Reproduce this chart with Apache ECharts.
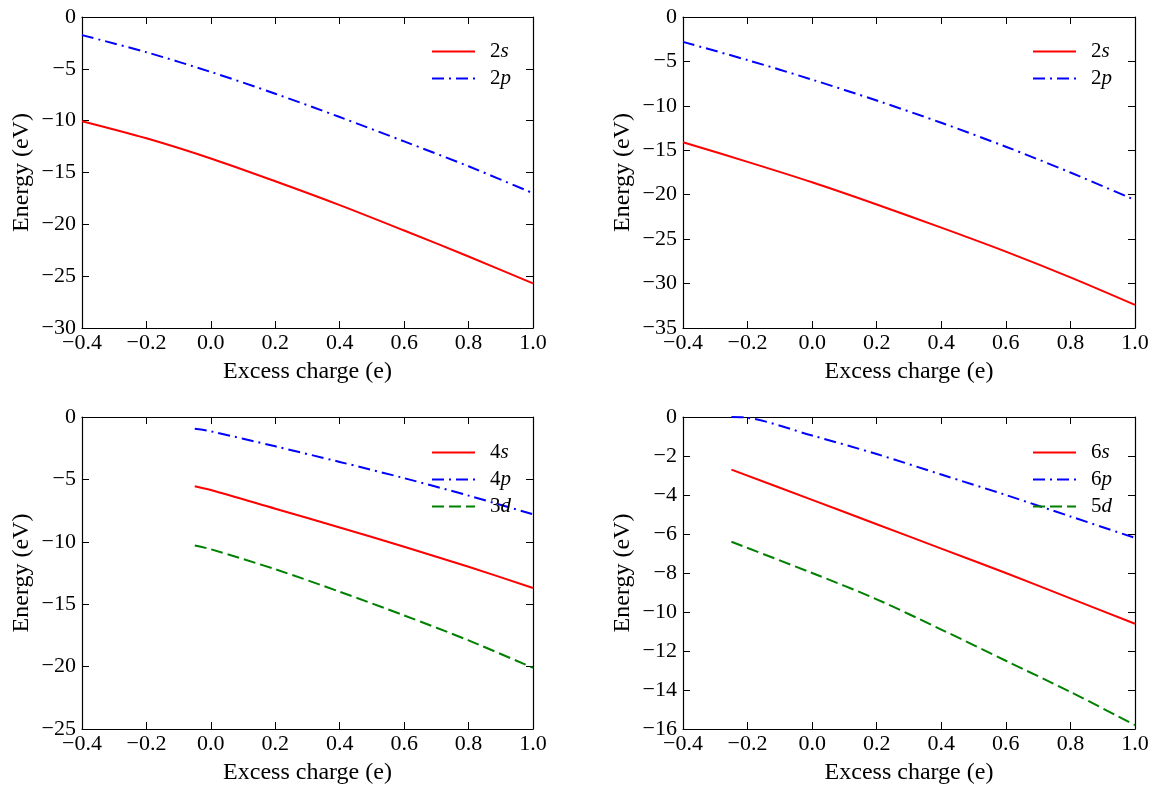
<!DOCTYPE html>
<html><head><meta charset="utf-8">
<script src="https://cdn.jsdelivr.net/npm/echarts@6/dist/echarts.min.js"></script>
<style>html,body{margin:0;padding:0;background:#fff}#c{width:1157px;height:789px}</style>
</head><body><div id="c"></div>
<script>
// ---- data ----
const xTL = [-0.4, -0.2, 0.0, 0.2, 0.4, 0.6, 0.8, 1.0];
const tl2s = [-10.05, -11.7, -13.65, -15.85, -18.15, -20.6, -23.1, -25.7];
const tl2p = [-1.75, -3.4, -5.3, -7.4, -9.65, -12.0, -14.4, -17.0];

const xTR = [-0.4, -0.2, 0.0, 0.2, 0.4, 0.6, 0.8, 1.0];
const tr2s = [-14.1, -16.3, -18.6, -21.1, -23.7, -26.4, -29.3, -32.4];
const tr2p = [-2.8, -4.85, -7.05, -9.4, -11.9, -14.6, -17.5, -20.6];

const xBL = [-0.05, 0.0, 0.2, 0.4, 0.6, 0.8, 1.0];
const bl4s = [-5.55, -5.85, -7.35, -8.85, -10.4, -12.0, -13.7];
const bl4p = [-0.95, -1.15, -2.35, -3.6, -4.9, -6.3, -7.8];
const bl3d = [-10.3, -10.6, -12.2, -14.0, -15.9, -17.9, -20.1];

const xBR = [-0.25, 0.0, 0.2, 0.4, 0.6, 0.8, 1.0];
const br6s = [-2.7, -4.25, -5.5, -6.75, -8.0, -9.3, -10.6];
const br5d = [-6.4, -8.0, -9.35, -10.9, -12.5, -14.1, -15.8];
const xBRp = [-0.25, -0.21, 0.0, 0.2, 0.4, 0.6, 0.8, 1.0];
const br6p = [0.0, -0.02, -0.95, -1.9, -2.95, -4.0, -5.1, -6.2];

const yRanges = [[-30, 0, 5], [-35, 0, 5], [-25, 0, 5], [-16, 0, 2]];
const xLabel = 'Excess charge (e)';
const yLabel = 'Energy (eV)';

// ---- build ----
const FONT = 'Liberation Serif';
const grids = [
  {left: 82, top: 17, width: 451, height: 311},
  {left: 683, top: 17, width: 452, height: 311},
  {left: 82, top: 417, width: 451, height: 312},
  {left: 683, top: 417, width: 452, height: 312}
];
const fmtNum = (v, d) => { const s = Math.abs(v).toFixed(d); return (v < 0 ? '\u2212' : '') + s; };
const xAxes = [], yAxes = [];
grids.forEach((g, i) => {
  const common = {gridIndex: i, type: 'value', min: -0.4, max: 1.0, interval: 0.2,
    axisLine: {show: true, onZero: false, lineStyle: {color: '#000', width: 1.2}},
    axisTick: {show: true, inside: true, length: 7, lineStyle: {color: '#000', width: 1}},
    splitLine: {show: false}};
  xAxes.push(Object.assign({}, common, {position: 'bottom',
    name: xLabel, nameLocation: 'middle', nameGap: 32,
    nameTextStyle: {fontFamily: FONT, fontSize: 24, color: '#000'},
    axisLabel: {show: true, margin: 4, fontFamily: FONT, fontSize: 22, color: '#000',
      showMinLabel: true, showMaxLabel: true, formatter: v => fmtNum(v, 1)}}));
  xAxes.push(Object.assign({}, common, {position: 'top', axisLabel: {show: false}}));
  const r = yRanges[i];
  const yc = {gridIndex: i, type: 'value', min: r[0], max: r[1], interval: r[2],
    axisLine: {show: true, onZero: false, lineStyle: {color: '#000', width: 1.2}},
    axisTick: {show: true, inside: true, length: 7, lineStyle: {color: '#000', width: 1}},
    splitLine: {show: false}};
  yAxes.push(Object.assign({}, yc, {position: 'left',
    name: yLabel, nameLocation: 'middle', nameGap: 48,
    nameTextStyle: {fontFamily: FONT, fontSize: 24, color: '#000'},
    axisLabel: {show: true, margin: 6, fontFamily: FONT, fontSize: 22, color: '#000',
      showMinLabel: true, showMaxLabel: true, formatter: v => fmtNum(v, 0)}}));
  yAxes.push(Object.assign({}, yc, {position: 'right', axisLabel: {show: false}}));
});

const styles = {
  s: {color: '#ff0000', type: 'solid'},
  p: {color: '#0000ff', type: [12, 5, 2, 5]},
  d: {color: '#008000', type: [12, 5]}
};
const series = [];
function addSeries(gi, name, kind, xs, ys) {
  series.push({name: name, type: 'line', xAxisIndex: gi * 2, yAxisIndex: gi * 2,
    data: xs.map((x, k) => [x, ys[k]]), symbol: 'none', showSymbol: false, smooth: 0.3,
    lineStyle: {width: 2, color: styles[kind].color, type: styles[kind].type},
    itemStyle: {color: styles[kind].color}, z: 3});
}
addSeries(0, '2s', 's', xTL, tl2s);
addSeries(0, '2p', 'p', xTL, tl2p);
addSeries(1, '2s ', 's', xTR, tr2s);
addSeries(1, '2p ', 'p', xTR, tr2p);
addSeries(2, '4s', 's', xBL, bl4s);
addSeries(2, '4p', 'p', xBL, bl4p);
addSeries(2, '3d', 'd', xBL, bl3d);
addSeries(3, '6s', 's', xBR, br6s);
addSeries(3, '6p', 'p', xBRp, br6p);
addSeries(3, '5d', 'd', xBR, br5d);

const legendFmt = name => { const n = name.trim(); return '{n|' + n.slice(0, -1) + '}{i|' + n.slice(-1) + '}'; };
function legend(left, top, names) {
  return {left: left, top: top, orient: 'vertical', padding: 0, itemGap: 6,
    itemWidth: 43, itemHeight: 14, data: names, formatter: legendFmt, selectedMode: false,
    itemStyle: {opacity: 0},
    textStyle: {color: '#000', padding: [0, 0, 0, 10], rich: {
      n: {fontFamily: FONT, fontSize: 21, lineHeight: 20, color: '#000'},
      i: {fontFamily: FONT, fontSize: 21, lineHeight: 20, fontStyle: 'italic', color: '#000'}}}};
}
const option = {
  animation: false,
  backgroundColor: '#fff',
  grid: grids,
  xAxis: xAxes,
  yAxis: yAxes,
  legend: [
    legend(431, 41, ['2s', '2p']),
    legend(1032, 41, ['2s ', '2p ']),
    legend(431, 442, ['4s', '4p', '3d']),
    legend(1032, 442, ['6s', '6p', '5d'])
  ],
  series: series
};
const chart = echarts.init(document.getElementById('c'), null, {renderer: 'canvas'});
chart.setOption(option);
</script></body></html>
